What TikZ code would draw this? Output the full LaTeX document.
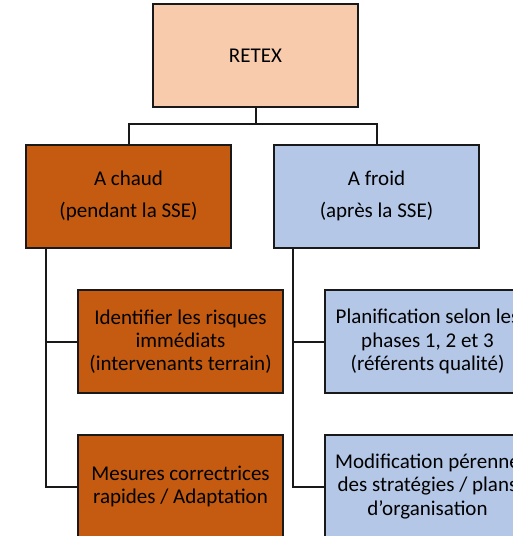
\documentclass[tikz,border=0pt]{standalone}
\usepackage{fontspec}
\setmainfont{Carlito}
\definecolor{retexfill}{HTML}{F8CBAD}
\definecolor{chaudfill}{HTML}{C55A11}
\definecolor{froidfill}{HTML}{B4C7E7}

\begin{document}
\begin{tikzpicture}[x=1pt,y=-1pt,
		boite/.style={draw=black!90, line width=2pt, minimum width=205pt, minimum height=103pt,
			align=center, inner sep=0pt, font=\fontsize{21}{23.3}\selectfont},
		lien/.style={draw=black!90, line width=2pt}]
		\useasboundingbox (0,0) rectangle (513,536);
		% boites
		\node[boite, fill=retexfill] (retex) at (255.5,55.5) {RETEX};
		\node[boite, fill=chaudfill] (chaud) at (128.5,196) {A chaud\\[9pt](pendant la SSE)};
		\node[boite, fill=froidfill] (froid) at (376.5,196) {A froid\\[9pt](après la SSE)};
		\node[boite, fill=chaudfill] (ident) at (180.5,341.5) {Identifier les risques\\immédiats\\(intervenants terrain)};
		\node[boite, fill=chaudfill] (mesures) at (180.5,486.5) {Mesures correctrices\\rapides / Adaptation};
		\node[boite, fill=froidfill] (plan) at (427.5,341.5) {Planification selon les\\phases 1, 2 et 3\\(référents qualité)};
		\node[boite, fill=froidfill] (modif) at (427.5,486.5) {Modification pérenne\\des stratégies / plans\\d’organisation};
		% liens
		\draw[lien] (retex.south) -- ++(0,16) -| (chaud.north);
		\draw[lien] (retex.south) -- ++(0,16) -| (froid.north);
		\coordinate (cg) at ([xshift=21pt]chaud.south west);
		\coordinate (fg) at ([xshift=20pt]froid.south west);
		\draw[lien] (cg) |- (ident.west);
		\draw[lien] (cg) |- (mesures.west);
		\draw[lien] (fg) |- (plan.west);
		\draw[lien] (fg) |- (modif.west);
	\end{tikzpicture}
\end{document}
